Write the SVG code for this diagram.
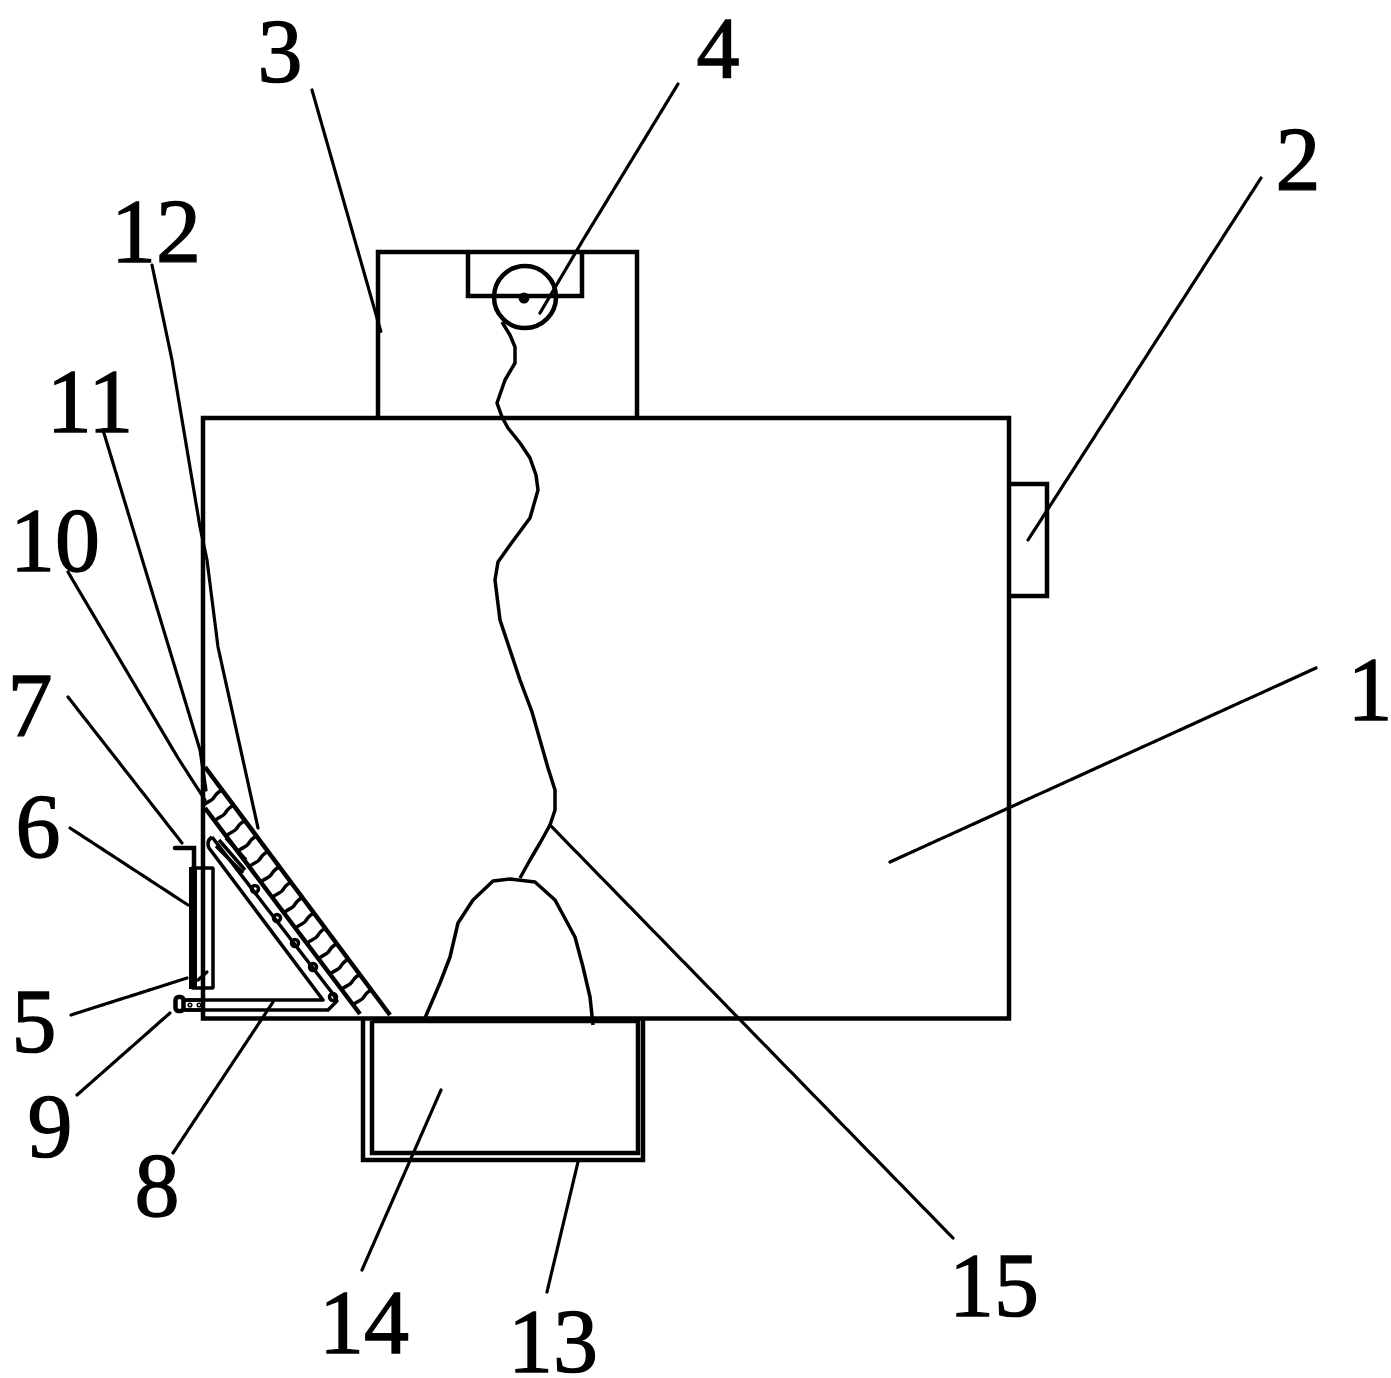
<svg xmlns="http://www.w3.org/2000/svg" width="1391" height="1378" viewBox="0 0 1391 1378">
<style>
.s{fill:none;stroke:#000;stroke-width:4.500}
.t{fill:none;stroke:#000;stroke-width:3.500;stroke-linejoin:round}
.l{fill:none;stroke:#000;stroke-width:3.200;stroke-linecap:round;stroke-linejoin:round;stroke-dasharray:8 1}
.n{font-family:"Liberation Serif",serif;font-size:90px;text-anchor:middle;fill:#000;stroke:#000;stroke-width:1.300}
</style>
<defs><path id="r" class="t" d="M0 0c-5 1-7 5-9 8s-6 3-10 7"/></defs>
<rect width="1391" height="1378" fill="#fff"/>
<g id="body"><rect class="s" x="203" y="418" width="806" height="600.500"/></g>
<g id="part2"><path class="s" d="M1009 484H1047V596H1009"/></g>
<g id="part3"><path class="s" d="M378 418V252H637V418"/><path class="s" d="M468 252V296H582V252"/></g>
<g id="part4"><circle class="s" cx="525" cy="297" r="31"/><circle cx="524" cy="298" r="5.500"/></g>
<g id="part13"><path class="s" d="M363 1018V1160H643V1018"/></g>
<g id="part14"><path class="s" d="M372 1021V1153H638V1021H372"/></g>
<g id="part11">
<path class="s" d="M205 767L390 1015"/>
<path class="s" d="M205 808L360 1014"/>
<use href="#r" x="222.400" y="790.200"/><use href="#r" x="233.900" y="805.600"/><use href="#r" x="245.400" y="820.900"/><use href="#r" x="257" y="836.300"/><use href="#r" x="268.500" y="851.600"/><use href="#r" x="280" y="867"/><use href="#r" x="291.500" y="882.400"/><use href="#r" x="303" y="897.700"/><use href="#r" x="314.600" y="913.100"/><use href="#r" x="326.100" y="928.400"/><use href="#r" x="337.600" y="943.800"/><use href="#r" x="349.100" y="959.200"/><use href="#r" x="360.600" y="974.500"/><use href="#r" x="372.200" y="989.900"/>
</g>
<g id="part10">
<path class="t" d="M212 837Q206 841 209 848L323 1000H185"/>
<path class="t" d="M212 837L333 994L337 1001L328 1010H185"/>
<path class="t" d="M219 840L245 870M226 838L246 860" stroke-width="4"/>
<path class="t" d="M216 846L243 873"/>
<circle class="t" cx="255" cy="889" r="3.500" fill="#fff"/>
<circle class="t" cx="277" cy="918" r="3.500" fill="#fff"/>
<circle class="t" cx="295" cy="943" r="3.500" fill="#fff"/>
<circle class="t" cx="313" cy="967" r="3.500" fill="#fff"/>
<circle class="t" cx="333" cy="997" r="3.500" fill="#fff"/>
</g>
<g id="part9"><rect x="175.500" y="997" width="8" height="14" rx="3" fill="#fff" stroke="#000" stroke-width="4.500"/><path class="t" d="M184 1000H205M184 1010H205"/><circle cx="190" cy="1005" r="1.800" fill="none" stroke="#000" stroke-width="1.500"/><circle cx="199" cy="1005" r="1.800" fill="none" stroke="#000" stroke-width="1.500"/></g>
<g id="part6"><rect class="t" x="192" y="868" width="21" height="120" rx="1"/><path d="M189 867H197V989H189Z"/></g>
<g id="part7"><path class="s" d="M175 848H194V867" stroke-linecap="round"/></g>
<g id="connectors">
<path class="t" d="M502 322L510 335L515 347L515 363L505 380L497 403L502 417L508 428L520 443L530 458L536 475L538 490L530 518L510 545L498 562L495 580L500 620L510 650L520 680L532 712L540 740L548 768L555 790L555 810L550 825L540 843L530 860L520 878"/>
<path class="t" d="M425 1018L440 983L450 957L458 923L473 900L493 881L510 879L535 882L555 900L575 937L583 967L590 997L593 1025"/>
<path class="l" d="M1316 668L890 862"/>
<path class="l" d="M1261 178L1028 540"/>
<path class="l" d="M312 90L381 332"/>
<path class="l" d="M678 84L583 240L540 313"/>
<path class="l" d="M71 1015L187 978M198 980L207 972"/>
<path class="l" d="M70 828L188 905"/>
<path class="l" d="M68 697L182 843"/>
<path class="l" d="M173 1153L273 1002"/>
<path class="l" d="M77 1095L170 1013"/>
<path class="l" d="M68 572L178 758L205 800"/>
<path class="l" d="M103 430L200 750L206 790"/>
<path class="l" d="M152 265L172 360L200 527L207 560L218 647L258 828"/>
<path class="l" d="M547 1292L578 1162"/>
<path class="l" d="M362 1270L441 1090"/>
<path class="l" d="M953 1238L550 825"/>
</g>
<g id="labels">
<text class="n" x="1370" y="720">1</text>
<text class="n" x="1298" y="190">2</text>
<text class="n" x="280" y="82">3</text>
<text class="n" x="718" y="77" style="font-size:86px">4</text>
<text class="n" x="34" y="1052">5</text>
<text class="n" x="38" y="857">6</text>
<text class="n" x="30" y="736">7</text>
<text class="n" x="157" y="1216">8</text>
<text class="n" x="50" y="1157">9</text>
<text class="n" x="55" y="571">10</text>
<text class="n" x="90" y="432">11</text>
<text class="n" x="156" y="262">12</text>
<text class="n" x="553" y="1372">13</text>
<text class="n" x="364" y="1353">14</text>
<text class="n" x="994" y="1316">15</text>
</g>
</svg>
